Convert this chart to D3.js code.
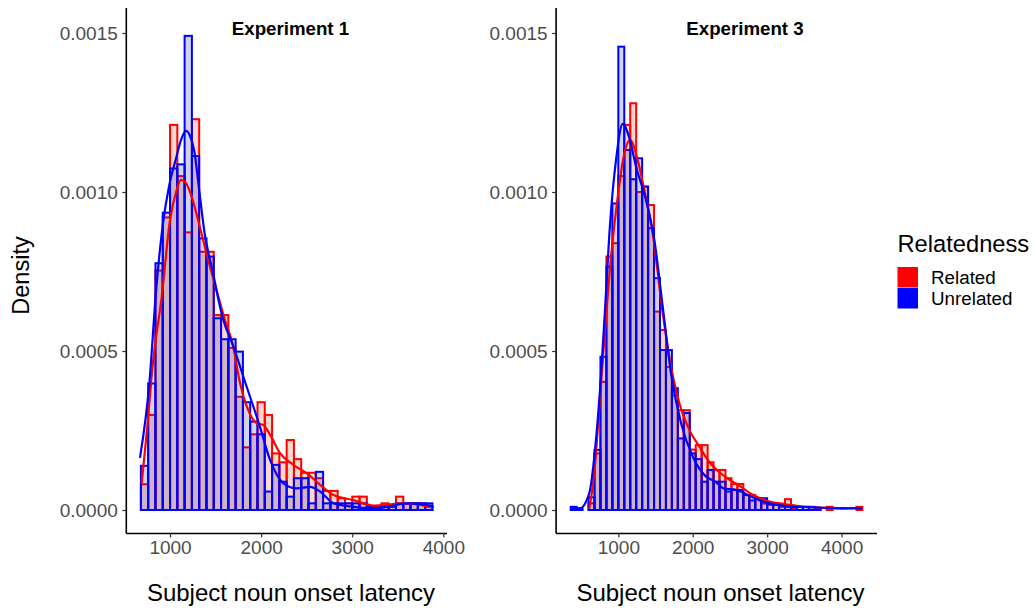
<!DOCTYPE html>
<html><head><meta charset="utf-8">
<script src="https://cdn.jsdelivr.net/npm/d3@7"></script>
<style>body{margin:0;background:#fff} svg{display:block} text{font-family:"Liberation Sans",Arial,Helvetica,sans-serif}</style>
</head><body><svg id="c" width="1036" height="611"></svg>
<script>
// ---------- data ----------
const binWidth = 80;
const exp1FirstEdge = 680;
const exp3FirstEdge = 360;
const seriesNames = ["Related", "Unrelated"];
const xTicks = [1000, 2000, 3000, 4000];
const yTicks = [0, 0.0005, 0.0010, 0.0015];

const exp1Related = [0.000081,0.000299,0.000753,0.000920,0.001211,0.001050,0.000873,0.001229,0.000812,0.000812,
  0.000613,0.000613,0.000510,0.000356,0.000197,0.000238,0.000339,0.000299,0.000178,0.000150,
  0.000220,0.000160,0.000117,0.000117,0.000100,0.000060,0.000060,0.000037,0.000021,0.000042,
  0.000042,0.000010,0.000010,0.000021,0.000010,0.000042,0.000021,0.000021,0.000021,0.000010];
const exp1Unrelated = [0.000139,0.000398,0.000776,0.000935,0.001074,0.001087,0.001491,0.001113,0.000854,0.000797,
  0.000603,0.000537,0.000537,0.000498,0.000339,0.000278,0.000238,0.000058,0.000142,0.000089,
  0.000042,0.000100,0.000100,0.000021,0.000120,0.000021,0.000021,0.000021,0.000021,0.000021,
  0.000021,0.000010,0.000010,0.000010,0.000010,0.000021,0.000021,0.000021,0.000021,0.000021];
const exp3Related = [0,0,0,0.000021,0.000178,0.000403,0.000797,0.000839,0.001050,0.001211,
  0.001279,0.001000,0.001017,0.000959,0.000624,0.000566,0.000450,0.000360,0.000314,0.000314,
  0.000190,0.000204,0.000204,0.000150,0.000126,0.000126,0.000100,0.000082,0.000082,0.000047,
  0.000047,0.000037,0.000020,0.000016,0.000016,0.000010,0.000034,0.000005,0,0,
  0,0,0,0.000010,0,0,0,0,0.000010];
const exp3Unrelated = [0.000010,0.000005,0,0.000040,0.000189,0.000482,0.000765,0.000964,0.001457,0.001132,
  0.001040,0.001106,0.001017,0.000886,0.000729,0.000503,0.000503,0.000383,0.000225,0.000305,
  0.000178,0.000160,0.000089,0.000126,0.000089,0.000089,0.000058,0.000063,0.000063,0.000047,
  0.000030,0.000037,0.000037,0.000021,0.000021,0.000016,0.000010,0.000010,0.000010,0.000010,
  0.000010,0.000005,0,0,0,0,0,0,0];

const exp1RelatedDensity = [[689,0.000084],[747,0.000252],[816,0.000472],[909,0.000671],[1000,0.000912],[1066,0.001000],
  [1121,0.001038],[1176,0.001028],[1231,0.000991],[1322,0.000896],[1414,0.000792],[1505,0.000697],[1597,0.000603],
  [1689,0.000519],[1769,0.000398],[1843,0.000325],[1953,0.000273],[2025,0.000267],[2099,0.000236],[2209,0.000178],
  [2355,0.000142],[2502,0.000115],[2648,0.000079],[2795,0.000047],[3014,0.000031],[3234,0.000014],[3381,0.000016],
  [3527,0.000021],[3674,0.000019],[3857,0.000009]];
const exp1UnrelatedDensity = [[670,0.000164],[773,0.000398],[846,0.000686],[920,0.000896],[992,0.001022],[1066,0.001106],
  [1121,0.001164],[1176,0.001192],[1220,0.001176],[1267,0.001127],[1322,0.001001],[1377,0.000875],[1469,0.000749],
  [1579,0.000603],[1689,0.000519],[1835,0.000393],[1981,0.000267],[2099,0.000157],[2245,0.000084],[2392,0.000068],
  [2538,0.000073],[2648,0.000058],[2795,0.000021],[3014,0.000010],[3234,0.000005],[3381,0.000010],[3601,0.000021],
  [3821,0.000016],[3893,0.000010]];
const exp3RelatedDensity = [[610,0.000005],[677,0.000115],[745,0.000325],[812,0.000535],[902,0.000797],[992,0.000985],
  [1081,0.001122],[1157,0.001164],[1261,0.001100],[1349,0.001006],[1462,0.000870],[1574,0.000660],[1685,0.000481],
  [1820,0.000336],[1954,0.000252],[2089,0.000199],[2223,0.000151],[2367,0.000117],[2501,0.000094],[2636,0.000075],
  [2770,0.000053],[2905,0.000037],[3039,0.000026],[3218,0.000019],[3398,0.000013],[3577,0.000009],[4020,0.000005],
  [4249,0.000007]];
const exp3UnrelatedDensity = [[351,0.000005],[485,0.000005],[575,0.000031],[620,0.000063],[687,0.000189],[754,0.000377],
  [821,0.000629],[888,0.000896],[969,0.001100],[1059,0.001214],[1148,0.001170],[1238,0.001080],[1372,0.000975],
  [1484,0.000849],[1597,0.000639],[1708,0.000430],[1843,0.000273],[2000,0.000168],[2179,0.000105],[2313,0.000088],
  [2411,0.000068],[2591,0.000063],[2770,0.000044],[2949,0.000026],[3129,0.000016],[3352,0.000010],[3577,0.000009],
  [4024,0.000005],[4276,0.000005]];

// ---------- layout ----------
const svg = d3.select("#c");
const plotTop = 8, plotBottom = 533.5;
const y = d3.scaleLinear().domain([-0.0000739, 0.0015786]).range([plotBottom, plotTop]);
const colors = {Related: "#FF0000", Unrelated: "#0000FF"};
const fills = {Related: "rgba(240,55,5,0.2)", Unrelated: "rgba(20,40,170,0.2)"};

const panels = [
  {title: "Experiment 1", titleX: 290.5, xTitleX: 291, left: 126.3, right: 447, domain: [520, 4040], first: exp1FirstEdge,
   bars: {Related: exp1Related, Unrelated: exp1Unrelated}, dens: {Related: exp1RelatedDensity, Unrelated: exp1UnrelatedDensity}},
  {title: "Experiment 3", titleX: 745, xTitleX: 720.5, left: 556.1, right: 877, domain: [164, 4476], first: exp3FirstEdge,
   bars: {Related: exp3Related, Unrelated: exp3Unrelated}, dens: {Related: exp3RelatedDensity, Unrelated: exp3UnrelatedDensity}}
];

panels.forEach(p => {
  const x = d3.scaleLinear().domain(p.domain).range([p.left, p.right]);
  const g = svg.append("g");
  seriesNames.forEach(s => {
    g.append("g").selectAll("rect").data(p.bars[s]).join("rect")
      .attr("x", (d, i) => x(p.first + i * binWidth))
      .attr("width", (d, i) => x(p.first + (i + 1) * binWidth) - x(p.first + i * binWidth))
      .attr("y", d => y(d))
      .attr("height", d => y(0) - y(d))
      .attr("fill", fills[s])
      .attr("stroke", colors[s])
      .attr("stroke-width", 2);
  });
  const line = d3.line().x(d => x(d[0])).y(d => y(d[1])).curve(d3.curveMonotoneX);
  seriesNames.forEach(s => {
    g.append("path").datum(p.dens[s]).attr("d", line)
      .attr("fill", "none").attr("stroke", colors[s]).attr("stroke-width", 2.2)
      .attr("stroke-linejoin", "round");
  });

  const ax = svg.append("g").attr("transform", `translate(${p.left},0)`)
    .call(d3.axisLeft(y).tickValues(yTicks).tickFormat(d3.format(".4f")).tickSize(4).tickSizeOuter(0).tickPadding(4.5));
  const bx = svg.append("g").attr("transform", `translate(0,${plotBottom})`)
    .call(d3.axisBottom(x).tickValues(xTicks).tickFormat(d3.format("d")).tickSize(4).tickSizeOuter(0).tickPadding(3.5));
  [ax, bx].forEach(a => {
    a.select(".domain").attr("stroke", "#000").attr("stroke-width", 1.6);
    a.selectAll(".tick line").attr("stroke", "#333").attr("stroke-width", 1.2);
    a.selectAll(".tick text").attr("fill", "#4d4d4d").style("font-size", "19px")
      .style("font-family", '"Liberation Sans",Arial,sans-serif');
  });
  ax.select(".domain").attr("d", `M0,${plotBottom}V${plotTop}`);
  bx.select(".domain").attr("d", `M${p.left},0H${p.right}`);

  svg.append("text").attr("x", p.titleX).attr("y", 35).attr("text-anchor", "middle")
    .attr("font-weight", "bold").attr("font-size", "18.7px").text(p.title);
  svg.append("text").attr("x", p.xTitleX).attr("y", 601).attr("text-anchor", "middle")
    .attr("font-size", "24px").text("Subject noun onset latency");
});

svg.append("text").attr("transform", "translate(29,275.5) rotate(-90)").attr("text-anchor", "middle")
  .attr("font-size", "23.5px").text("Density");

// legend
const lg = svg.append("g");
lg.append("text").attr("x", 897.5).attr("y", 252).attr("font-size", "23.7px").text("Relatedness");
seriesNames.forEach((s, i) => {
  lg.append("rect").attr("x", 897.5).attr("y", 267 + i * 21).attr("width", 20.5).attr("height", 20.5)
    .attr("fill", colors[s]);
  lg.append("text").attr("x", 931).attr("y", 284 + i * 21).attr("font-size", "18.8px").text(s);
});
</script></body></html>
